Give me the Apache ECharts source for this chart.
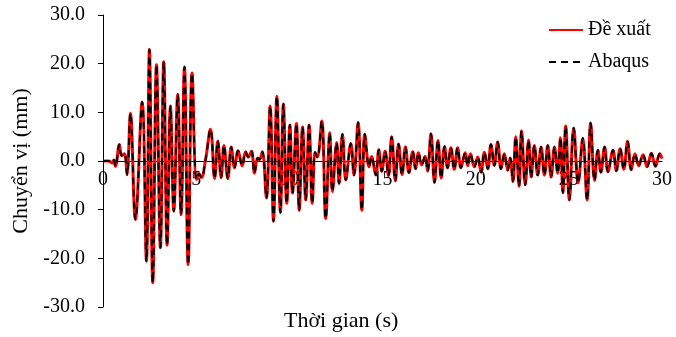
<!DOCTYPE html>
<html>
<head>
<meta charset="utf-8">
<script src="https://cdn.jsdelivr.net/npm/echarts@6/dist/echarts.min.js"></script>
<style>
  html, body { margin: 0; padding: 0; background: #fff; }
  #container_cv { width: 676px; height: 337px; }
</style>
</head>
<body>
<div id="container_cv"></div>
<script>
// thoi gian (s) - doc tu hinh, cac dinh/day
var time = [
  0, 0.3, 0.5, 0.58, 0.67, 0.88, 1.0, 1.15, 1.29, 1.47, 1.74, 2.1, 2.33, 2.49, 2.67, 2.87,
  3.08, 3.26, 3.44, 3.62, 3.8, 4.01, 4.19, 4.37, 4.57, 4.78, 5.02, 5.15, 5.28, 5.5, 5.77,
  5.99, 6.16, 6.34, 6.49, 6.7, 6.88, 7.06, 7.25, 7.47, 7.65, 7.8, 7.97, 8.13, 8.3, 8.4,
  8.55, 8.77, 8.97, 9.15, 9.33, 9.52, 9.68, 9.86, 10.03, 10.17, 10.38, 10.53, 10.71, 10.88,
  11.06, 11.23, 11.38, 11.5, 11.74, 11.95, 12.17, 12.31, 12.54, 12.67, 12.85, 13.03, 13.3,
  13.47, 13.69, 13.89, 14.05, 14.28, 14.41, 14.64, 14.8, 14.96, 15.14, 15.32, 15.49, 15.69,
  15.86, 16.05, 16.23, 16.42, 16.62, 16.78, 16.93, 17.1, 17.29, 17.42, 17.6, 17.79, 17.98,
  18.15, 18.33, 18.49, 18.67, 18.85, 19.03, 19.21, 19.44, 19.57, 19.72, 19.93, 20.11, 20.29,
  20.47, 20.65, 20.82, 21.0, 21.18, 21.36, 21.54, 21.72, 21.85, 22.0, 22.15, 22.33, 22.46,
  22.66, 22.84, 22.98, 23.15, 23.33, 23.51, 23.69, 23.87, 24.05, 24.23, 24.4, 24.55, 24.68,
  24.83, 25.03, 25.26, 25.5, 25.75, 25.98, 26.17, 26.38, 26.56, 26.72, 26.92, 27.1, 27.37,
  27.55, 27.75, 27.95, 28.15, 28.35, 28.55, 28.75, 28.98, 29.2, 29.43, 29.65, 29.88, 30.0
];
// chuyen vi (mm) - De xuat
var deXuat = [
  0, 0, -0.4, 0.2, -1.1, 3.4, 1.1, 1.5, -2.8, 9.8, -12.0, 12.1, -20.6, 22.9, -25.0, 19.8,
  -17.8, 20.4, -17.3, 11.3, -10.3, 13.7, -11.0, 19.3, -21.3, 18.1, -3.8, -2.6, -3.4, 0.2, 6.5,
  -3.6, 4.1, -3.4, 3.2, -3.6, 2.9, -1.4, 2.1, -1.0, 1.9, 0.8, 2.0, -2.5, 0.6, 0.3,
  1.9, -7.6, 11.3, -12.4, 13.3, -10.6, 11.7, -8.7, 7.4, -6.6, 7.7, -10.1, 7.0, -8.0,
  7.4, -8.7, 1.8, 0.8, 8.2, -11.8, 5.8, -6.3, 3.8, -4.6, 5.5, -3.9, 3.6,
  -2.9, 7.9, -10.1, 5.5, -1.2, 0.9, -2.9, 2.3, -2.1, 2.0, -3.0, 5.0, -4.1,
  3.5, -2.8, 2.9, -2.4, 1.9, -1.6, 1.7, -0.8, 1.0, -2.1, 5.6, -4.4, 4.2,
  -3.5, 3.0, -1.4, 2.7, -1.7, 2.7, -1.4, 1.7, -1.0, 1.5, -1.2, 0.8, -2.3,
  1.8, -1.6, 3.4, -0.9, 3.9, -1.6, 1.5, -1.9, 0.6, -4.2, 5.0, -5.2, 6.2,
  -4.9, 4.3, -3.3, 3.2, -2.9, 2.9, -2.9, 3.2, -3.3, 2.9, -2.5, 4.8, -6.5,
  7.2, -8.0, 6.8, -4.5, 4.7, -8.0, 7.8, -4.0, 2.2, -2.3, 2.9, -2.2, 2.2,
  -2.0, 2.5, -1.7, 4.0, -1.8, 1.5, -1.0, 1.3, -1.2, 1.6, -1.1, 1.5, 0.5
];
// Abaqus - trung voi de xuat tren hinh
var abaqus = deXuat;

var yTicks = [-30, -20, -10, 0, 10, 20, 30];
var xTicks = [0, 5, 10, 15, 20, 25, 30];

var dom = document.getElementById("container_cv");
var myChart = echarts.init(dom, null, { renderer: "canvas" });
var font = "Liberation Serif";

function pairs(vals) {
  var out = [];
  for (var i = 0; i < time.length; i++) {
    out.push([time[i], vals[i]]);
  }
  return out;
}

var option = {
  animation: false,
  textStyle: { fontFamily: font, color: "#000" },
  grid: { left: 103, right: 14, top: 15, bottom: 30 },
  legend: {
    orient: "vertical",
    left: 543,
    top: 15,
    itemWidth: 34,
    itemHeight: 14,
    itemGap: 12,
    itemStyle: { opacity: 0 }, // an cham tron
    textStyle: { fontFamily: font, fontSize: 20, color: "#000" },
    data: ["Đề xuất", "Abaqus"],
  },
  graphic: [
    {
      type: "text",
      left: 284,
      top: 310,
      style: { text: "Thời gian (s)", font: "22px Liberation Serif", fill: "#000" },
    },
  ],
  xAxis: {
    type: "value",
    min: xTicks[0],
    max: xTicks[xTicks.length - 1],
    interval: 5,
    offset: -146, // truc x nam o y = 0 (onZero khong an)
    splitLine: { show: false },
    axisLine: { onZero: false, lineStyle: { color: "#000", width: 1 } },
    axisTick: { show: false },
    axisLabel: { fontFamily: font, fontSize: 20, color: "#000", margin: 9 },
  },
  yAxis: {
    type: "value",
    min: yTicks[0],
    max: yTicks[yTicks.length - 1],
    interval: 10,
    name: "Chuyển vị (mm)",
    nameLocation: "middle",
    nameGap: 71,
    nameTextStyle: { fontFamily: font, fontSize: 22, color: "#000" },
    splitLine: { show: false },
    axisLine: { show: true, onZero: false, lineStyle: { color: "#000", width: 1 } },
    axisTick: { show: true, length: 5, lineStyle: { color: "#000" } },
    axisLabel: {
      fontFamily: font,
      fontSize: 20,
      color: "#000",
      margin: 18,
      formatter: function (v) { return v.toFixed(1); },
    },
  },
  series: [
    {
      name: "Đề xuất",
      type: "line",
      smooth: 0.4,
      symbol: "none",
      lineStyle: { color: "#ff0000", width: 3 },
      itemStyle: { color: "#ff0000" },
      data: pairs(deXuat),
    },
    {
      name: "Abaqus",
      type: "line",
      smooth: 0.4,
      symbol: "none",
      lineStyle: { color: "#000", width: 2, type: [7, 5] },
      itemStyle: { color: "#000" },
      data: pairs(abaqus),
    },
  ],
};

if (option && typeof option === "object") {
  myChart.setOption(option);
}
</script>
</body>
</html>
